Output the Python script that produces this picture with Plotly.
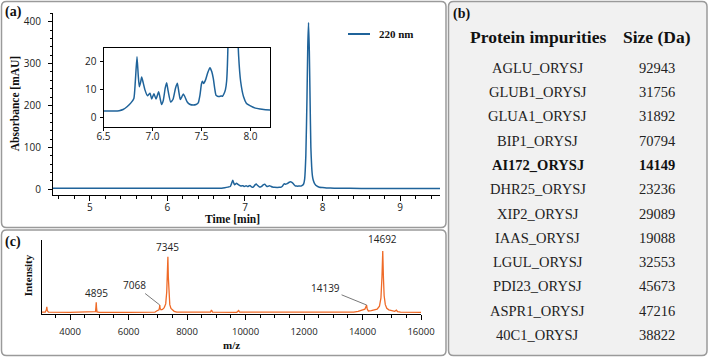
import plotly.graph_objects as go

W, H = 709, 357

# ---------------- data ----------------
# (a) HPLC chromatogram, 220 nm
time_min = [4.52, 5.0, 5.5, 6.0, 6.3, 6.5, 6.6, 6.66, 6.70, 6.74, 6.78, 6.81, 6.825, 6.842,
            6.855, 6.866, 6.878, 6.890, 6.905, 6.924, 6.948, 6.975, 6.992, 7.015, 7.036, 7.063,
            7.080, 7.093, 7.11, 7.13, 7.145, 7.16, 7.186, 7.21, 7.235, 7.254, 7.27, 7.284, 7.30,
            7.315, 7.33, 7.355, 7.38, 7.416, 7.445, 7.467, 7.485, 7.50, 7.51, 7.522, 7.543, 7.565,
            7.587, 7.605, 7.621, 7.635, 7.648, 7.665, 7.682, 7.70, 7.715, 7.73, 7.745, 7.757,
            7.77, 7.785, 7.80, 7.81, 7.82, 7.83, 7.84, 7.85, 7.86, 7.87, 7.88, 7.90, 7.93, 7.96,
            8.00, 8.05, 8.10, 8.20, 8.5, 9.0, 9.52]
absorbance_mau = [2.6, 2.5, 2.4, 2.4, 2.3, 2.3, 2.3, 2.4, 2.8, 3.8, 5.2, 6.8, 13.0, 21.8,
                  15.0, 11.0, 12.5, 14.5, 12.5, 9.8, 7.8, 8.7, 6.6, 8.5, 6.6, 9.2,
                  6.5, 4.6, 6.0, 10.5, 12.5, 9.5, 5.5, 6.5, 10.5, 12.3, 9.0, 6.4, 7.4,
                  8.4, 7.5, 5.5, 4.7, 4.4, 4.6, 5.2, 8.0, 12.0, 13.0, 12.2, 13.6, 16.2,
                  17.9, 16.5, 14.0, 10.5, 8.0, 7.6, 7.5, 7.7, 7.6, 8.5, 10.0, 13.0,
                  25.0, 80.0, 220.0, 340.0, 398.0, 330.0, 210.0, 100.0, 55.0, 32.0, 22.0, 13.0, 7.4, 5.0,
                  4.1, 3.3, 3.0, 2.6, 2.2, 1.8, 1.7]

# (c) mass spectrum
mz = [3030, 3150, 3190, 3205, 3220, 3260, 4000, 4800, 4870, 4885, 4895, 4905, 4920, 5000,
      6000, 6900, 6960, 7000, 7040, 7058, 7068, 7078, 7110, 7160, 7220, 7270, 7305, 7330,
      7345, 7360, 7380, 7410, 7450, 7500, 7560, 7650, 8000, 8800, 8835, 8870, 9700, 9766,
      9800, 11000, 13700, 13850, 13950, 14020, 14080, 14120, 14139, 14160, 14200, 14300,
      14400, 14500, 14580, 14630, 14665, 14692, 14715, 14740, 14780, 14830, 14900, 15000,
      15100, 15160, 15200, 15300, 16000]
intensity = [2.8, 2.8, 6.0, 10.0, 5.0, 2.8, 2.7, 2.7, 3.5, 10.0, 16.0, 9.0, 3.2, 2.7,
             2.7, 2.8, 4.5, 5.5, 6.0, 9.0, 12.5, 8.0, 6.0, 6.5, 9.0, 14.0, 30.0, 60.0,
             77.5, 50.0, 25.0, 13.0, 8.0, 5.5, 4.0, 3.0, 2.8, 2.8, 5.8, 2.9, 2.7, 5.0,
             2.8, 2.7, 2.8, 4.0, 5.5, 6.0, 7.0, 10.0, 12.5, 7.0, 4.5, 5.0,
             5.5, 7.0, 11.0, 22.0, 50.0, 85.0, 50.0, 25.0, 13.0, 8.0, 6.0, 4.5,
             4.0, 5.5, 3.5, 2.8, 2.7]
labeled_mz = [4895, 7068, 7345, 14139, 14692]

# (b) table
protein_names = ["AGLU_ORYSJ", "GLUB1_ORYSJ", "GLUA1_ORYSJ", "BIP1_ORYSJ", "AI172_ORYSJ",
                 "DHR25_ORYSJ", "XIP2_ORYSJ", "IAAS_ORYSJ", "LGUL_ORYSJ", "PDI23_ORYSJ",
                 "ASPR1_ORYSJ", "40C1_ORYSJ"]
protein_sizes = [92943, 31756, 31892, 70794, 14149, 23236, 29089, 19088, 32553, 45673,
                 47216, 38822]
highlight = "AI172_ORYSJ"

# ---------------- helpers ----------------
def px(x):
    return x / W

def py(y):
    return 1 - y / H

SERIF = "Liberation Serif"
SANS = "Open Sans"
BLUE = "#1f639a"
ORANGE = "#ef6a27"

fig = go.Figure()

fig.add_trace(go.Scatter(x=time_min, y=absorbance_mau, mode="lines", xaxis="x", yaxis="y",
                         line=dict(color=BLUE, width=1.5, shape="spline", smoothing=0.5),
                         showlegend=False, name="220 nm"))
fig.add_trace(go.Scatter(x=time_min, y=absorbance_mau, mode="lines", xaxis="x2", yaxis="y2",
                         line=dict(color=BLUE, width=1.5, shape="spline", smoothing=0.5),
                         showlegend=False, cliponaxis=True))
fig.add_trace(go.Scatter(x=mz, y=intensity, mode="lines", xaxis="x3", yaxis="y3",
                         line=dict(color=ORANGE, width=1.3),
                         showlegend=False))

tickfont = dict(family=SANS, size=10, color="#222")

common_ax = dict(showgrid=False, zeroline=False, showline=True, linecolor="black",
                 linewidth=1, ticks="outside", tickcolor="black", tickwidth=1,
                 automargin=False)

fig.update_layout(
    width=W, height=H, margin=dict(l=0, r=0, t=0, b=0, autoexpand=False),
    paper_bgcolor="white", plot_bgcolor="rgba(0,0,0,0)",
    xaxis=dict(domain=[px(53), px(440)], range=[4.523, 9.516], anchor="y",
               dtick=1, tick0=0, ticklen=5, tickfont=tickfont, ticklabelstandoff=-2,
               minor=dict(ticks="outside", dtick=0.2, tick0=0, ticklen=3, tickcolor="black"),
               **common_ax),
    yaxis=dict(domain=[py(195), py(13.3)], range=[-13.6, 420], anchor="x",
               dtick=100, tick0=0, ticklen=4, tickfont=tickfont, ticklabelstandoff=5,
               minor=dict(ticks="outside", dtick=20, tick0=0, ticklen=2.5, tickcolor="black"),
               **common_ax),
    xaxis2=dict(domain=[px(103.5), px(270)], range=[6.5, 8.2], anchor="y2",
                dtick=0.5, tick0=0, tickformat=".1f", ticklen=3, mirror=True,
                ticklabelstandoff=-3, tickfont=tickfont, **common_ax),
    yaxis2=dict(domain=[py(127), py(48)], range=[-3.5, 25], anchor="x2",
                dtick=10, tick0=0, ticklen=3, mirror=True, tickfont=tickfont,
                ticklabelstandoff=1, **common_ax),
    xaxis3=dict(domain=[px(41.7), px(421)], range=[3030, 16000], anchor="y3",
                dtick=2000, tick0=0, ticklen=5, tickformat="d", ticklabelstandoff=3,
                tickfont=dict(family=SANS, size=9.5, color="#222"),
                minor=dict(ticks="outside", dtick=500, tick0=0, ticklen=3, tickcolor="black"),
                **common_ax),
    yaxis3=dict(domain=[py(314.3), py(240)], range=[0, 100], anchor="x3",
                showgrid=False, zeroline=False, showline=True, linecolor="black",
                linewidth=1, ticks="", showticklabels=False, automargin=False),
)

# ---------------- panel boxes ----------------
def rrect(x0, y0, x1, y1, r=5):
    rx, ry = r / W, r / H
    X0, X1 = px(x0), px(x1)
    Y0, Y1 = py(y0), py(y1)   # Y0 top (larger), Y1 bottom
    return (f"M {X0+rx},{Y0} L {X1-rx},{Y0} Q {X1},{Y0} {X1},{Y0-ry} "
            f"L {X1},{Y1+ry} Q {X1},{Y1} {X1-rx},{Y1} L {X0+rx},{Y1} "
            f"Q {X0},{Y1} {X0},{Y1+ry} L {X0},{Y0-ry} Q {X0},{Y0} {X0+rx},{Y0} Z")

shapes = []
for (x0, y0, x1, y1, fill) in [(1.5, 1.5, 446, 227.5, "white"),
                               (1.5, 230, 446, 355.5, "white"),
                               (448.5, 1.5, 707, 355.5, "#f1f1f1")]:
    shapes.append(dict(type="path", path=rrect(x0, y0, x1, y1), xref="paper", yref="paper",
                       line=dict(color="#9a9a9a", width=1.5), fillcolor=fill, layer="below"))
# legend key of panel (a)
shapes.append(dict(type="line", xref="paper", yref="paper", x0=px(348), x1=px(370),
                   y0=py(34), y1=py(34), line=dict(color=BLUE, width=2)))
fig.update_layout(shapes=shapes)

ann = []
def text(x, y, s, size, family=SERIF, xanchor="center", angle=0, color="#111"):
    ann.append(dict(x=px(x), y=py(y), xref="paper", yref="paper", text=s, showarrow=False,
                    xanchor=xanchor, yanchor="middle", textangle=angle,
                    font=dict(family=family, size=size, color=color)))

# panel labels
text(3, 12, "<b>(a)</b>", 14, xanchor="left")
text(451, 14, "<b>(b)</b>", 14, xanchor="left")
text(3, 242, "<b>(c)</b>", 14, xanchor="left")

# axis titles
text(232.7, 219, "<b>Time [min]</b>", 11.5)
text(15, 103.3, "<b>Absorbance [mAU]</b>", 11.5, angle=-90)
text(28.3, 275, "<b>Intensity</b>", 11, angle=-90)
text(231, 345, "<b>m/z</b>", 11)
text(377, 34, "<b>220 nm</b>", 11, xanchor="left")

# table (b)
name_cx, size_cx = 537.7, 657
text(name_cx, 37.3, "<b>Protein impurities</b>", 17.5)
text(size_cx, 37.3, "<b>Size (Da)</b>", 17.5)
for i, (n, s) in enumerate(zip(protein_names, protein_sizes)):
    yy = 67.7 + i * 24.3
    if n == highlight:
        text(name_cx, yy, f"<b>{n}</b>", 14.5, color="#111")
        text(size_cx, yy, f"<b>{s}</b>", 14.5, color="#111")
    else:
        text(name_cx, yy, n, 14.5, color="#222")
        text(size_cx, yy, str(s), 14.5, color="#222")

# mass-spec peak labels
arrow_offsets = {7068: (-25.5, -20), 14139: (-41, -16.7)}
yshifts = {4895: 0, 7345: 1, 14692: 3}
for m in labeled_mz:
    yv = intensity[mz.index(m)]
    if m in arrow_offsets:
        axo, ayo = arrow_offsets[m]
        ann.append(dict(x=m, y=yv, xref="x3", yref="y3", text=str(m), showarrow=True,
                        arrowhead=0, arrowwidth=0.8, arrowcolor="#555", ax=axo, ay=ayo,
                        standoff=0, font=dict(family=SANS, size=10, color="#222")))
    else:
        ann.append(dict(x=m, y=yv, xref="x3", yref="y3", text=str(m), showarrow=False,
                        yanchor="bottom", yshift=yshifts[m],
                        font=dict(family=SANS, size=10, color="#222")))

fig.update_layout(annotations=ann)

fig.write_html("out.html")
